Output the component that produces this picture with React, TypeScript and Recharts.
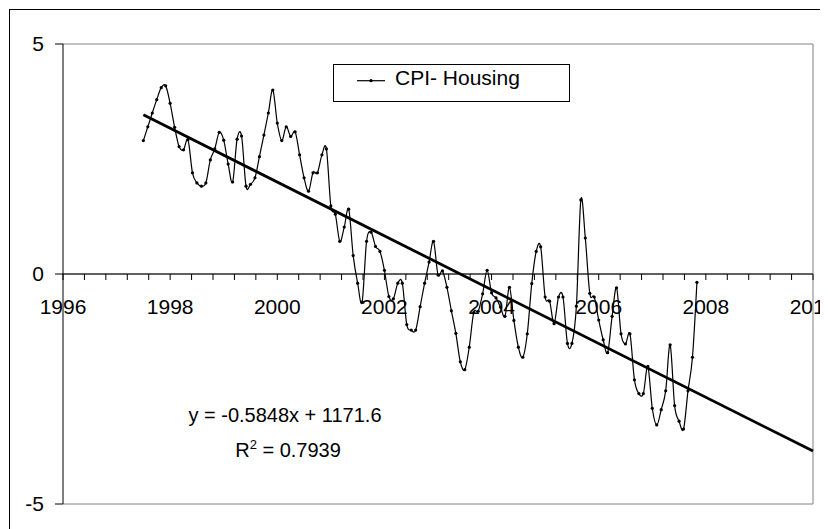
import React from 'react';
import { ComposedChart, Line, XAxis, YAxis, CartesianGrid, ReferenceLine } from 'recharts';

// Monthly CPI - Housing values (first point = July 1997)
const firstMonth = 1997.5;
const cpi1997 = [2.9, 3.2, 3.5, 3.79, 4.05, 4.09];
const cpi1998 = [3.71, 3.19, 2.77, 2.7, 2.92, 2.2, 1.98, 1.91, 1.98, 2.48, 2.72, 3.08];
const cpi1999 = [2.91, 2.39, 2.0, 2.93, 3.0, 1.91, 1.95, 2.09, 2.55, 3.02, 3.5, 4.0];
const cpi2000 = [3.28, 2.9, 3.2, 2.99, 3.09, 2.59, 2.09, 1.8, 2.2, 2.2, 2.59, 2.72];
const cpi2001 = [1.48, 1.3, 0.71, 1.02, 1.41, 0.4, -0.2, -0.61, 0.71, 0.91, 0.6, 0.49];
const cpi2002 = [0.08, -0.49, -0.54, -0.2, -0.2, -1.1, -1.22, -1.22, -0.71, -0.2, 0.26, 0.71];
const cpi2003 = [-0.02, 0.07, -0.29, -0.8, -1.29, -1.91, -2.08, -1.59, -0.84, -0.81, -0.43, 0.08];
const cpi2004 = [-0.41, -0.52, -0.72, -0.92, -0.29, -1.01, -1.59, -1.81, -1.3, -0.21, 0.49, 0.59];
const cpi2005 = [-0.5, -0.59, -1.08, -0.5, -0.5, -1.51, -1.51, -0.7, 1.61, 0.78, -0.42, -0.5];
const cpi2006 = [-1.0, -1.43, -1.71, -0.92, -0.3, -1.3, -1.52, -1.3, -2.3, -2.6, -2.6, -2.01];
const cpi2007 = [-2.92, -3.28, -2.95, -2.54, -1.54, -2.86, -3.2, -3.37, -2.54, -1.81, -0.18];

const monthlyValues = [
  ...cpi1997, ...cpi1998, ...cpi1999, ...cpi2000, ...cpi2001, ...cpi2002,
  ...cpi2003, ...cpi2004, ...cpi2005, ...cpi2006, ...cpi2007,
];
const data = monthlyValues.map((v, i) => ({ x: firstMonth + i / 12, y: v }));

// Linear trend line end points
const trendYears = [1997.5, 2010];
const trendValues = [3.46, -3.85];

const yTicks = [-5, 0, 5];
const xMin = 1996;
const xMax = 2010;
const minorStep = 0.4;
const labelEvery = 5;
const xTicks = Array.from({ length: Math.round((xMax - xMin) / minorStep) + 1 }, (_, k) => +(xMin + k * minorStep).toFixed(1));

const legendLabel = 'CPI- Housing';
const eqText = 'y = -0.5848x + 1171.6';
const r2Value = '0.7939';

const FONT = '"Liberation Sans", Arial, Helvetica, sans-serif';
const W = 820;
const H = 521;
const M = { top: 36, right: 15, left: 0, bottom: 0 };
const Y_W = 55;
const X_H = 25;
const PLOT_H = H - M.top - M.bottom - X_H;
const ZERO_Y = M.top + PLOT_H * (5 - 0) / 10;

// Catmull-Rom style (cardinal, tension 0) curve similar to Excel smoothing
function cardinalCurve(context: any) {
  const k = 1 / 6;
  const s: any = { _x0: NaN, _x1: NaN, _x2: NaN, _y0: NaN, _y1: NaN, _y2: NaN, _point: 0, _line: NaN };
  const pt = (x: number, y: number) => {
    context.bezierCurveTo(
      s._x1 + k * (s._x2 - s._x0),
      s._y1 + k * (s._y2 - s._y0),
      s._x2 + k * (s._x1 - x),
      s._y2 + k * (s._y1 - y),
      s._x2,
      s._y2
    );
  };
  return {
    areaStart() { s._line = 0; },
    areaEnd() { s._line = NaN; },
    lineStart() {
      s._x0 = s._x1 = s._x2 = s._y0 = s._y1 = s._y2 = NaN;
      s._point = 0;
    },
    lineEnd() {
      switch (s._point) {
        case 2: context.lineTo(s._x2, s._y2); break;
        case 3: pt(s._x1, s._y1); break;
      }
      if (s._line || (s._line !== 0 && s._point === 1)) context.closePath();
      s._line = 1 - s._line;
    },
    point(x: number, y: number) {
      x = +x; y = +y;
      switch (s._point) {
        case 0: s._point = 1; s._line ? context.lineTo(x, y) : context.moveTo(x, y); break;
        case 1: s._point = 2; s._x1 = x; s._y1 = y; break;
        case 2: s._point = 3; pt(x, y); break;
        default: pt(x, y); break;
      }
      s._x0 = s._x1; s._x1 = s._x2; s._x2 = x;
      s._y0 = s._y1; s._y1 = s._y2; s._y2 = y;
    },
  };
}

const XTick = (props: any) => {
  const { x, payload } = props;
  const k = Math.round((payload.value - xMin) / minorStep);
  const isMajor = k % labelEvery === 0;
  return (
    <g>
      <line x1={x} x2={x} y1={ZERO_Y} y2={ZERO_Y + 6} stroke="#000" strokeWidth={1} />
      {isMajor && (
        <text x={x} y={ZERO_Y + 40} textAnchor="middle" fontSize={21} fontFamily={FONT} fill="#000">
          {Math.round(payload.value)}
        </text>
      )}
    </g>
  );
};

export default function App() {
  return (
    <div style={{ position: 'relative', width: W, height: H, overflow: 'hidden', background: '#fff' }}>
      <div style={{ position: 'absolute', left: 1, top: 1, width: 1000, height: 1000, border: '1px solid #000' }} />
      <div style={{ position: 'absolute', left: 0, top: 0 }}>
        <ComposedChart width={W} height={H} data={data} margin={M}>
          <CartesianGrid vertical={false} stroke="#808080" strokeWidth={1} />
          <XAxis
            type="number"
            dataKey="x"
            domain={[xMin, xMax]}
            ticks={xTicks}
            interval={0}
            allowDataOverflow
            axisLine={false}
            tickLine={false}
            height={X_H}
            tick={<XTick />}
          />
          <YAxis
            type="number"
            domain={[-5, 5]}
            ticks={yTicks}
            interval={0}
            width={Y_W}
            axisLine={{ stroke: '#000', strokeWidth: 1 }}
            tickLine={{ stroke: '#000', strokeWidth: 1 }}
            tickSize={8}
            tickMargin={11}
            tick={{ fill: '#000', fontSize: 21, fontFamily: FONT }}
          />
          <ReferenceLine x={xMax} stroke="#808080" strokeWidth={1} />
          <ReferenceLine y={0} stroke="#000" strokeWidth={1} />
          <ReferenceLine
            segment={[
              { x: trendYears[0], y: trendValues[0] },
              { x: trendYears[1], y: trendValues[1] },
            ]}
            stroke="#000"
            strokeWidth={2.8}
          />
          <Line
            dataKey="y"
            type={cardinalCurve as any}
            stroke="#000"
            strokeWidth={1.2}
            dot={{ r: 1.6, fill: '#000', stroke: 'none' }}
            activeDot={false}
            isAnimationActive={false}
          />
        </ComposedChart>
      </div>
      <svg width={W} height={H} style={{ position: 'absolute', left: 0, top: 0, pointerEvents: 'none' }}>
        <rect x={325.5} y={56.5} width={236} height={37} fill="#fff" stroke="#000" strokeWidth={1} />
        <line x1={349} x2={377} y1={72.7} y2={72.7} stroke="#000" strokeWidth={1.2} />
        <circle cx={363} cy={72.7} r={1.6} fill="#000" />
        <text x={387} y={77} fontSize={21} fontFamily={FONT} fill="#000">{legendLabel}</text>
        <text x={277} y={414} textAnchor="middle" fontSize={20} fontFamily={FONT} fill="#000">{eqText}</text>
        <text x={280} y={449} textAnchor="middle" fontSize={20} fontFamily={FONT} fill="#000">
          R<tspan dy={-8} fontSize={13}>2</tspan><tspan dy={8}>{' = ' + r2Value}</tspan>
        </text>
      </svg>
    </div>
  );
}
